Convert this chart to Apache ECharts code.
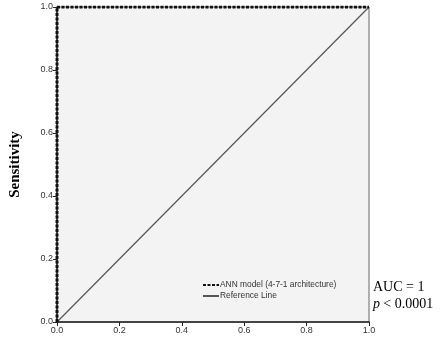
<!DOCTYPE html>
<html><head><meta charset="utf-8">
<script src="https://cdn.jsdelivr.net/npm/echarts@6/dist/echarts.min.js"></script>
<style>html,body{margin:0;padding:0;background:#fff}#c{width:445px;height:342px}</style>
</head><body><div id="c"></div>
<script>
const annX = [0, 0, 1];
const annY = [0, 1, 1];
const refX = [0, 1];
const refY = [0, 1];
const tickLabels = ['0.0','0.2','0.4','0.6','0.8','1.0'];
const seriesNames = ['ANN model (4-7-1 architecture)', 'Reference Line'];

const chart = echarts.init(document.getElementById('c'));
const lbl = {color:'#333', fontSize:9, fontFamily:'Liberation Sans, Arial'};
chart.setOption({
  animation:false,
  grid:{left:53, right:76, top:7, bottom:20, show:true, backgroundColor:'#f3f3f3', borderColor:'#666', borderWidth:1},
  xAxis:{type:'value', min:0, max:1, interval:0.2,
    axisLine:{show:true, lineStyle:{color:'#222', width:1.5}},
    axisTick:{show:true, length:4, lineStyle:{color:'#222'}},
    splitLine:{show:false},
    axisLabel:Object.assign({margin:4, formatter:(v)=>tickLabels[Math.round(v*5)]}, lbl)},
  yAxis:{type:'value', min:0, max:1, interval:0.2,
    name:'Sensitivity', nameLocation:'middle', nameGap:34, nameRotate:90,
    nameTextStyle:{fontFamily:'Liberation Serif, Times New Roman', fontWeight:'bold', fontSize:15, color:'#000'},
    axisLine:{show:true, lineStyle:{color:'#222', width:1.5}},
    axisTick:{show:true, length:4, lineStyle:{color:'#222'}},
    splitLine:{show:false},
    axisLabel:Object.assign({margin:4, formatter:(v)=>tickLabels[Math.round(v*5)]}, lbl)},
  legend:{left:202, top:281, orient:'vertical', itemWidth:16, itemHeight:6, itemGap:3, padding:0,
    itemStyle:{opacity:0},
    textStyle:{fontSize:8.4, color:'#333', fontFamily:'Liberation Sans, Arial', padding:[0,0,0,-4]},
    data:[seriesNames[0], seriesNames[1]]},
  series:[
    {name:seriesNames[1], type:'line', data:refX.map((x,i)=>[x,refY[i]]), symbol:'none',
      itemStyle:{color:'#555'}, lineStyle:{color:'#555', width:1.2}, z:2},
    {name:seriesNames[0], type:'line', data:annX.map((x,i)=>[x,annY[i]]), symbol:'none',
      itemStyle:{color:'#111'}, lineStyle:{color:'#111', width:3, type:[3,1.5]}, z:3}
  ],
  graphic:[
    {type:'text', left:373, top:280, style:{text:'AUC = 1', font:'14px "Liberation Serif", serif', fill:'#000'}},
    {type:'text', left:373, top:297, style:{rich:{i:{font:'italic 14px "Liberation Serif", serif', fill:'#000'}, n:{font:'14px "Liberation Serif", serif', fill:'#000'}}, text:'{i|p} {n|< 0.0001}'}}
  ]
});
</script></body></html>
